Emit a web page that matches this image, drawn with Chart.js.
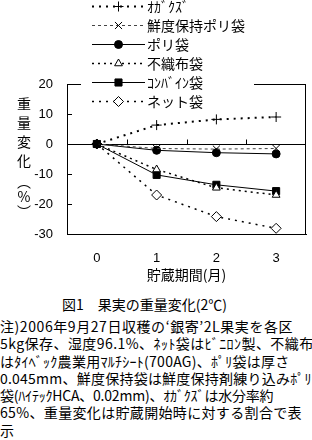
<!DOCTYPE html>
<html>
<head>
<meta charset="utf-8">
<script src="https://cdn.jsdelivr.net/npm/chart.js@4/dist/chart.umd.min.js"></script>
<style>
    body { margin: 0; background: #fff; }
    #wrap { position: relative; width: 312px; height: 440px; overflow: hidden; }
    #chart { position: absolute; left: 0; top: 0; }
    .caption { position: absolute; left: 62px; top: 294px; white-space: pre;
        font: 14px "Noto Sans CJK JP"; color: #000; }
    #note { position: absolute; left: 0; top: 318px; width: 330px; }
    #note div { white-space: pre; font: 14px/17.3px "Noto Sans CJK JP"; color: #000; }
</style>
</head>
<body>
<div id="wrap">
    <canvas id="chart" width="312" height="290"></canvas>
    <div class="caption">図1　果実の重量変化(2℃)</div>
    <div id="note"></div>
</div>
<script>
// months of storage
const months = ['0', '1', '2', '3'];

// weight change (%) per packing material
const ogakuzu = [0, 6.3, 8.2, 9.0];
const sendoPoly = [0, -1.5, -1.7, -1.5];
const polyBag = [0, -2.1, -2.9, -3.3];
const fushokufu = [0, -8.5, -14.6, -17.0];
const combine = [0, -10.3, -13.6, -15.7];
const netBag = [0, -17.0, -24.2, -28.1];

const yTicks = [20, 10, 0, -10, -20, -30];
const yTitle = ['重', '量', '変', '化', '︵', '%', '︶'];

// note lines and how wide each one runs in the figure
const noteLines = [
    '注)2006年9月27日収穫の‘銀寄’2L果実を各区',
    '5kg保存、湿度96.1%、ﾈｯﾄ袋はﾋﾞﾆﾛﾝ製、不織布',
    'はﾀｲﾍﾞｯｸ農業用ﾏﾙﾁｼｰﾄ(700AG)、ﾎﾟﾘ袋は厚さ',
    '0.045mm、鮮度保持袋は鮮度保持剤練り込みﾎﾟﾘ',
    '袋(ﾊｲﾃｯｸHCA、0.02mm)、ｵｶﾞｸｽﾞは水分率約',
    '65%、重量変化は貯蔵開始時に対する割合で表',
    '示'
];
const noteWidths = [293, 314, 290, 312, 273, 302, 0];

const JP = '"Noto Sans CJK JP"';

// Build the note, spreading each line to its width
const note = document.getElementById('note');
noteLines.forEach((t, i) => {
    const d = document.createElement('div');
    d.textContent = t;
    note.appendChild(d);
    if (noteWidths[i]) {
        const span = document.createElement('span');
        span.style.font = '14px ' + JP;
        span.style.whiteSpace = 'pre';
        span.textContent = t;
        document.body.appendChild(span);
        const w = span.getBoundingClientRect().width;
        span.remove();
        const n = [...t].length;
        d.style.letterSpacing = ((noteWidths[i] - w) / n).toFixed(2) + 'px';
    }
});

// Frame: zero line, inner tick marks, top/right border
const framePlugin = {
    id: 'frame',
    beforeDatasetsDraw(chart) {
        const { ctx, chartArea: a, scales: { x, y } } = chart;
        ctx.save();
        ctx.strokeStyle = '#000';
        ctx.lineWidth = 1;
        ctx.strokeRect(a.left + 0.5, a.top + 0.5, a.right - a.left - 1, a.bottom - a.top);
        const y0 = Math.round(y.getPixelForValue(0)) + 0.5;
        ctx.beginPath();
        ctx.moveTo(a.left, y0);
        ctx.lineTo(a.right, y0);
        // y ticks pointing inward
        yTicks.forEach(v => {
            const py = Math.round(y.getPixelForValue(v)) + 0.5;
            ctx.moveTo(a.left, py);
            ctx.lineTo(a.left + 5, py);
        });
        // x ticks between months, on the zero line
        for (let i = 0; i < months.length - 1; i++) {
            const px = Math.round((x.getPixelForValue(i) + x.getPixelForValue(i + 1)) / 2) + 0.5;
            ctx.moveTo(px, y0);
            ctx.lineTo(px, y0 - 5);
        }
        ctx.stroke();
        ctx.restore();
    },
    afterDraw(chart) {
        const { ctx } = chart;
        ctx.save();
        // y axis title, stacked characters
        ctx.fillStyle = '#000';
        ctx.font = '14px ' + JP;
        ctx.textAlign = 'center';
        ctx.textBaseline = 'middle';
        const rows = [104, 123, 142, 161, 182, 197, 212];
        yTitle.forEach((c, i) => ctx.fillText(c, 24, rows[i]));

        // legend box
        ctx.fillStyle = '#fff';
        ctx.fillRect(81, 0, 173, 110);
        chart.data.datasets.forEach((ds, i) => {
            const ly = 6 + i * 19;
            ctx.strokeStyle = ds.borderColor;
            ctx.lineWidth = ds.borderWidth;
            ctx.setLineDash(ds.borderDash || []);
            ctx.beginPath();
            ctx.moveTo(92, ly + 0.5);
            ctx.lineTo(145, ly + 0.5);
            ctx.stroke();
            ctx.setLineDash([]);
            ctx.fillStyle = ds.pointBackgroundColor;
            ctx.strokeStyle = ds.pointBorderColor;
            ctx.lineWidth = 1;
            Chart.helpers.drawPoint(ctx, {
                pointStyle: ds.pointStyle, radius: ds.pointRadius, rotation: 0, borderWidth: 1
            }, 118.5, ly + 0.5);
            ctx.fillStyle = '#000';
            ctx.font = '14px ' + JP;
            ctx.textAlign = 'left';
            ctx.fillText(ds.label, 147, ly + 1);
        });
        ctx.restore();
    }
};

function series(label, data, style) {
    return Object.assign({
        label,
        data,
        borderColor: '#000',
        borderWidth: 1,
        pointBorderColor: '#000',
        pointBorderWidth: 1,
        tension: 0
    }, style);
}

new Chart(document.getElementById('chart').getContext('2d'), {
    type: 'line',
    data: {
        labels: months,
        datasets: [
            series('ｵｶﾞｸｽﾞ', ogakuzu, { borderWidth: 2, borderDash: [2, 5], pointStyle: 'cross', pointRadius: 5, pointBackgroundColor: '#000' }),
            series('鮮度保持ポリ袋', sendoPoly, { borderColor: '#444', borderDash: [3, 3], pointStyle: 'crossRot', pointRadius: 5, pointBackgroundColor: '#000' }),
            series('ポリ袋', polyBag, { pointStyle: 'circle', pointRadius: 4, pointBackgroundColor: '#000' }),
            series('不織布袋', fushokufu, { borderWidth: 1.5, borderDash: [2, 4], pointStyle: 'triangle', pointRadius: 4.5, pointBackgroundColor: '#fff' }),
            series('ｺﾝﾊﾞｲﾝ袋', combine, { pointStyle: 'rect', pointRadius: 5, pointBackgroundColor: '#000' }),
            series('ネット袋', netBag, { borderWidth: 1.5, borderDash: [2, 5], pointStyle: 'rectRot', pointRadius: 5, pointBackgroundColor: '#fff' })
        ]
    },
    options: {
        responsive: false,
        animation: false,
        layout: { padding: { top: 84, right: 2, left: 0, bottom: 0 } },
        plugins: { legend: { display: false }, tooltip: { enabled: false } },
        scales: {
            x: {
                type: 'category',
                offset: true,
                grid: { display: false, drawTicks: false },
                border: { display: true, color: '#000' },
                ticks: { color: '#000', padding: 17, font: { family: 'Liberation Sans', size: 13 } },
                title: { display: true, text: '貯蔵期間(月)', color: '#000', font: { family: JP, size: 14 }, padding: { top: 0, bottom: 7 } },
                afterFit(scale) { scale.height = 56; }
            },
            y: {
                min: -30,
                max: 20,
                ticks: { stepSize: 10, color: '#000', padding: 14, font: { family: 'Liberation Sans', size: 13 } },
                grid: { display: false, drawTicks: false },
                border: { display: true, color: '#000' },
                afterFit(scale) { scale.width = 67; }
            }
        }
    },
    plugins: [framePlugin]
});
</script>
</body>
</html>
